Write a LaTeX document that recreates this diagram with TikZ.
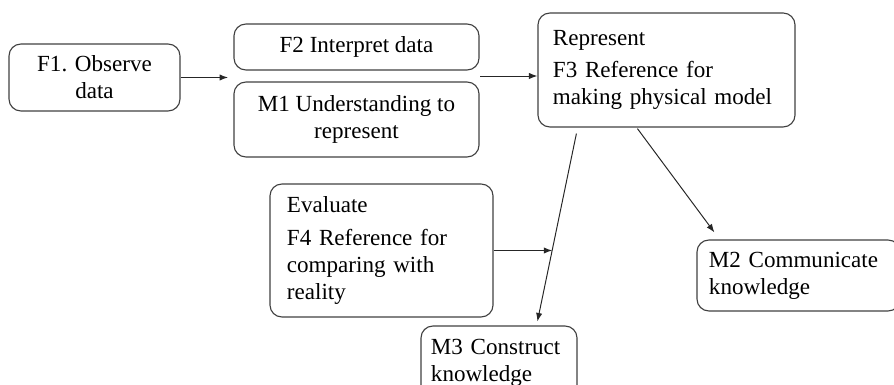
\documentclass[tikz,border=0pt]{standalone}
\usepackage{fontspec}
\setmainfont{Liberation Serif}
\usetikzlibrary{arrows, arrows.meta, calc}
\tikzstyle{boite} = [
    rectangle,
    rounded corners = 0.3cm,
    draw = black!75,
    line width = 0.8pt,
    inner sep = 0pt,
    font = \fontsize{16.4}{19.2}\selectfont,
]
\tikzstyle{centre} = [boite, align = center]
\tikzstyle{gauche} = [boite, align = left]
\tikzstyle{fleche} = [-{Latex[length = 6pt, width = 4.5pt]}, line width = 0.7pt, draw = black!85]

\begin{document}
\begin{tikzpicture} [x = 0.025cm, y = -0.025cm]
    \useasboundingbox (0,0) rectangle (894,385);
    \clip (0,0) rectangle (894,385);

    \node (f1) [centre, minimum width = 4.275cm, minimum height = 1.675cm] at (94.5,77.5) {F1. Observe \\ data};
    \node (f2) [centre, minimum width = 6.125cm, minimum height = 1.15cm] at (356.5,47) {F2 Interpret data};
    \node (m1) [centre, minimum width = 6.125cm, minimum height = 1.875cm] at (356.5,119.5) {M1 Understanding to \\ represent};
    \node (f3) [gauche, minimum width = 6.425cm, minimum height = 2.85cm, text width = 5.675cm] at (666.5,70) {Represent \\[4pt] F3 Reference for \\ making physical model};
    \node (f4) [gauche, minimum width = 5.575cm, minimum height = 3.325cm, text width = 4.725cm] at (381.5,250.5) {Evaluate \\[4pt] F4 Reference for \\ comparing with \\ reality};
    \node (m2) [gauche, minimum width = 5.075cm, minimum height = 1.775cm, text width = 4.475cm] at (798.5,275.5) {M2 Communicate \\ knowledge};
    \node (m3) [gauche, minimum width = 3.9cm, minimum height = 1.85cm, text width = 3.4cm] at (499,363) {M3 Construct \\ knowledge};

    \coordinate (entree) at (228,77.5);
    \coordinate (sortie) at (480,76);
    \coordinate (pied) at ($(f3.south west) + (39,6)$);
    \coordinate (tete) at ($(m3.north west) + (117,-4)$);
    \coordinate (impact) at ($(pied)!0.62!(tete)$);

    \draw[fleche] (f1.east) -- (entree);
    \draw[fleche] (sortie) -- (sortie -| f3.west);
    \draw[fleche] (pied) -- (tete);
    \draw[fleche] (f4.east) -- (f4.east -| impact);
    \draw[fleche] ($(f3.south west) + (100,1)$) -- ($(m2.north west) + (18,-7)$);
\end{tikzpicture}
\end{document}
